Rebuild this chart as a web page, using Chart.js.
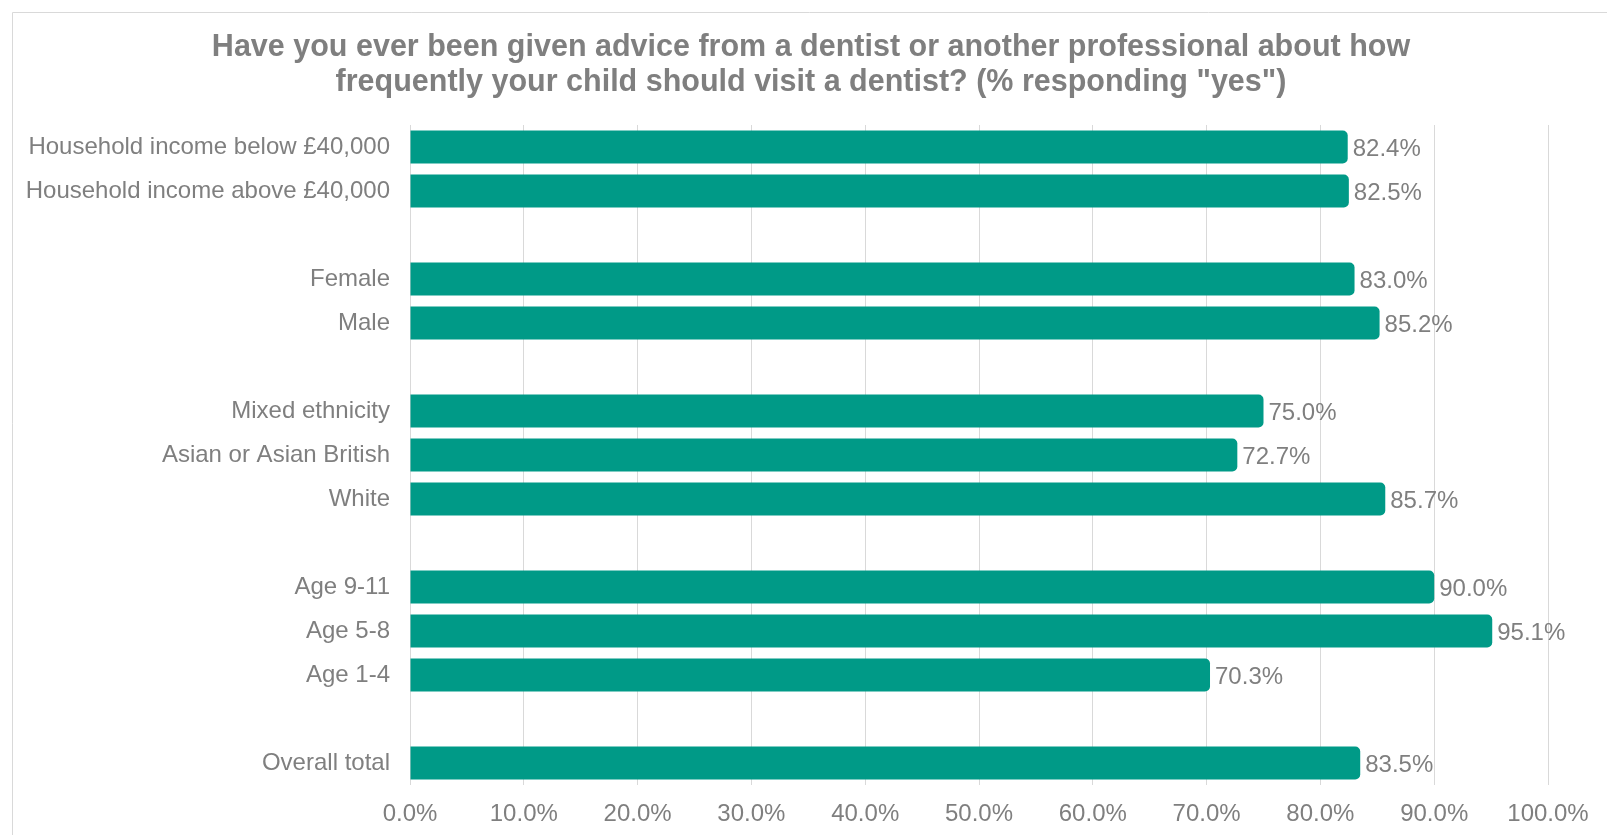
<!DOCTYPE html>
<html>
<head>
<meta charset="utf-8">
<script src="https://cdn.jsdelivr.net/npm/chart.js@4"></script>
<style>
  html, body { margin: 0; padding: 0; background: #ffffff; }
  #wrap { width: 1607px; height: 835px; position: relative; }
</style>
</head>
<body>
<div id="wrap"><canvas id="dentistChart"></canvas></div>
<script>
// Grupos de la encuesta; las cadenas vacías dejan un hueco entre bloques
const categorias = [
    'Household income below £40,000',
    'Household income above £40,000',
    '',
    'Female',
    'Male',
    '',
    'Mixed ethnicity',
    'Asian or Asian British',
    'White',
    '',
    'Age 9-11',
    'Age 5-8',
    'Age 1-4',
    '',
    'Overall total'
];

// % que responde "yes"
const valores = [82.4, 82.5, null, 83.0, 85.2, null, 75.0, 72.7, 85.7, null, 90.0, 95.1, 70.3, null, 83.5];

// Marcas del eje horizontal
const ticksX = [0, 10, 20, 30, 40, 50, 60, 70, 80, 90, 100];

const tituloLineas = [
    'Have you ever been given advice from a dentist or another professional about how',
    'frequently your child should visit a dentist? (% responding "yes")'
];

const GRIS = '#7f7f7f';
const FUENTE = "'Liberation Sans', Arial, sans-serif";

// Marco fino alrededor del gráfico y título centrado en el marco
const marcoPlugin = {
    id: 'marco',
    beforeDraw(chart) {
        const ctx = chart.ctx;
        ctx.save();
        ctx.strokeStyle = '#d9d9d9';
        ctx.lineWidth = 1;
        ctx.beginPath();
        ctx.moveTo(12.5, chart.height);
        ctx.lineTo(12.5, 12.5);
        ctx.lineTo(chart.width, 12.5);
        ctx.stroke();

        ctx.font = 'bold 30.5px ' + FUENTE;
        ctx.fillStyle = GRIS;
        ctx.textAlign = 'center';
        ctx.textBaseline = 'middle';
        tituloLineas.forEach((linea, i) => {
            ctx.fillText(linea, 811, 48 + i * 34.5);
        });
        ctx.restore();
    }
};

// Etiqueta con el valor al final de cada barra
const etiquetasPlugin = {
    id: 'etiquetas',
    afterDatasetsDraw(chart) {
        const ctx = chart.ctx;
        const meta = chart.getDatasetMeta(0);
        ctx.save();
        ctx.font = '24px ' + FUENTE;
        ctx.fillStyle = GRIS;
        ctx.textAlign = 'left';
        ctx.textBaseline = 'middle';
        meta.data.forEach((bar, i) => {
            const v = valores[i];
            if (v === null) return;
            ctx.fillText(v.toFixed(1) + '%', bar.x + 5, bar.y + 2);
        });
        ctx.restore();
    }
};

new Chart(document.getElementById('dentistChart'), {
    type: 'bar',
    data: {
        labels: categorias,
        datasets: [{
            data: valores,
            backgroundColor: '#009a87',
            borderRadius: 5,
            borderSkipped: 'start',
            categoryPercentage: 1,
            barPercentage: 0.75
        }]
    },
    options: {
        indexAxis: 'y',
        responsive: true,
        maintainAspectRatio: false,
        animation: false,
        layout: {
            padding: { left: 0, right: 59, top: 125, bottom: 0 }
        },
        scales: {
            x: {
                min: 0,
                max: 100,
                afterBuildTicks(scale) {
                    scale.ticks = ticksX.map(v => ({ value: v }));
                },
                afterFit(scale) { scale.height = 50; },
                grid: { color: '#d9d9d9', drawTicks: false },
                border: { display: false },
                ticks: {
                    color: GRIS,
                    padding: 15,
                    maxRotation: 0,
                    font: { family: FUENTE, size: 24 },
                    callback: v => v.toFixed(1) + '%'
                }
            },
            y: {
                grid: { display: false },
                border: { display: false },
                afterFit(scale) { scale.width = 410; },
                ticks: {
                    color: GRIS,
                    padding: 12,
                    autoSkip: false,
                    font: { family: FUENTE, size: 24 }
                }
            }
        },
        plugins: {
            legend: { display: false },
            tooltip: { enabled: false },
            title: { display: false }
        }
    },
    plugins: [marcoPlugin, etiquetasPlugin]
});
</script>
</body>
</html>
